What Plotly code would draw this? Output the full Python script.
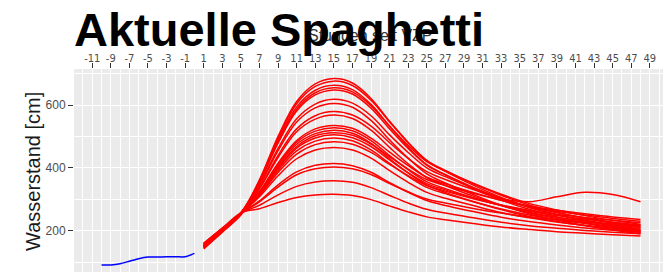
import plotly.graph_objects as go

# Observed water level (blue)
obs_hours = [-10, -9, -8, -7, -6, -5, -4, -3, -2, -1, 0]
obs_values = [91, 91, 95, 103, 111, 116, 116, 117, 117, 117, 128]

# Forecast ensemble members (red), sampled at these hours
fc_hours = [1, 3, 5, 7, 9, 11, 13, 15, 17, 19, 21, 23, 25, 27, 30, 33, 36, 39, 42, 45, 48]

m01 = [150, 200, 255, 362, 500, 611, 667, 684, 670, 621, 548, 481, 423, 389, 345, 306, 275, 251, 231, 215, 200]
m02 = [145, 198, 252, 360, 495, 604, 659, 676, 662, 615, 546, 480, 424, 392, 350, 313, 282, 259, 240, 224, 210]
m03 = [155, 205, 258, 357, 488, 594, 647, 663, 649, 602, 532, 466, 410, 378, 335, 298, 268, 244, 225, 209, 195]
m04 = [148, 200, 255, 355, 483, 587, 639, 655, 642, 598, 533, 472, 420, 390, 351, 316, 287, 266, 248, 233, 220]
m05 = [152, 203, 255, 353, 479, 581, 632, 648, 635, 590, 524, 462, 409, 378, 338, 302, 274, 252, 234, 218, 205]
m06 = [145, 197, 253, 346, 462, 556, 603, 618, 606, 566, 505, 449, 400, 372, 336, 304, 277, 257, 241, 227, 215]
m07 = [158, 207, 258, 343, 455, 546, 591, 605, 593, 551, 489, 431, 381, 352, 315, 281, 254, 234, 217, 202, 190]
m08 = [150, 200, 255, 336, 440, 524, 566, 579, 568, 533, 480, 430, 388, 363, 331, 302, 292, 308, 322, 315, 292]
m09 = [142, 195, 250, 333, 433, 515, 555, 568, 557, 520, 465, 413, 369, 344, 310, 281, 257, 239, 224, 211, 200]
m10 = [155, 205, 255, 325, 415, 487, 524, 535, 526, 495, 450, 407, 370, 349, 322, 297, 277, 262, 250, 239, 230]
m11 = [148, 200, 255, 323, 411, 482, 517, 528, 518, 487, 439, 394, 356, 334, 305, 280, 259, 243, 231, 220, 210]
m12 = [160, 208, 255, 321, 406, 475, 509, 520, 510, 478, 429, 384, 345, 322, 293, 267, 245, 229, 216, 205, 195]
m13 = [150, 202, 255, 319, 401, 468, 502, 512, 504, 476, 435, 396, 363, 344, 319, 297, 279, 265, 254, 244, 236]
m14 = [146, 198, 255, 318, 398, 463, 495, 505, 496, 468, 425, 384, 350, 330, 304, 281, 262, 248, 237, 227, 218]
m15 = [152, 203, 255, 315, 392, 454, 485, 495, 486, 457, 414, 373, 338, 318, 292, 269, 250, 235, 224, 214, 205]
m16 = [158, 206, 255, 312, 385, 444, 474, 483, 475, 449, 411, 375, 344, 326, 302, 282, 265, 252, 242, 233, 225]
m17 = [150, 200, 255, 308, 375, 429, 457, 465, 457, 431, 391, 354, 322, 303, 280, 258, 241, 228, 217, 208, 200]
m18 = [150, 200, 255, 295, 346, 387, 408, 414, 407, 386, 353, 322, 296, 280, 261, 243, 229, 218, 209, 202, 195]
m19 = [155, 204, 255, 292, 339, 378, 397, 403, 397, 379, 350, 324, 301, 288, 271, 256, 244, 235, 227, 221, 215]
m20 = [148, 199, 255, 281, 314, 341, 355, 359, 354, 337, 312, 288, 268, 256, 241, 227, 216, 208, 201, 195, 190]
m21 = [160, 208, 257, 270, 290, 306, 314, 316, 312, 299, 279, 260, 244, 235, 223, 212, 204, 197, 192, 187, 183]

members = [m01, m02, m03, m04, m05, m06, m07, m08, m09, m10, m11,
           m12, m13, m14, m15, m16, m17, m18, m19, m20, m21]

x_tick_vals = list(range(-11, 50, 2))
y_tick_vals = [200, 400, 600]

fig = go.Figure()

for m in members:
    fig.add_trace(go.Scatter(x=fc_hours, y=m, mode="lines",
                             line=dict(color="#FF0000", width=1.5, shape="spline", smoothing=1.0),
                             hoverinfo="skip", showlegend=False))

fig.add_trace(go.Scatter(x=obs_hours, y=obs_values, mode="lines",
                         line=dict(color="#0000FF", width=1.5, shape="spline", smoothing=0.6),
                         showlegend=False))

fig.add_vline(x=0, line=dict(color="#8C8C8C", width=1), layer="below")

W, H = 663, 272
ML, MT = 74, 69
PW, PH = W - ML, H - MT

fig.update_layout(
    width=W, height=H, autosize=False,
    margin=dict(l=ML, r=0, t=MT, b=0, pad=0),
    paper_bgcolor="white", plot_bgcolor="#EBEBEB",
    showlegend=False,
    xaxis=dict(
        side="top", range=[-12.96, 50.42], automargin=False,
        tickmode="array", tickvals=x_tick_vals, ticktext=[str(v) for v in x_tick_vals],
        ticks="outside", ticklen=5, tickcolor="#333333", tickwidth=1,
        ticklabelstandoff=-3,
        tickfont=dict(family="Liberation Sans Narrow, DejaVu Sans Condensed, Liberation Sans", size=11, color="#4D4D4D"),
        showgrid=True, gridcolor="white", gridwidth=1.1,
        minor=dict(tickmode="array", tickvals=list(range(-12, 51, 2)), showgrid=True,
                   gridcolor="white", gridwidth=0.5, ticks=""),
        zeroline=False, showline=False,
    ),
    yaxis=dict(
        range=[68.6, 714.6], automargin=False,
        tickmode="array", tickvals=y_tick_vals, ticktext=[str(v) for v in y_tick_vals],
        ticks="outside", ticklen=5, tickcolor="#333333", tickwidth=1,
        tickfont=dict(family="Liberation Sans", size=12, color="#4D4D4D"),
        showgrid=True, gridcolor="white", gridwidth=1.1,
        minor=dict(tickmode="array", tickvals=[100, 300, 500, 700], showgrid=True,
                   gridcolor="white", gridwidth=0.5, ticks=""),
        zeroline=False, showline=False,
    ),
    annotations=[
        dict(text="Stunden seit VZP", xref="paper", yref="paper",
             x=(370 - ML) / PW, y=(H - 35) / PH, xanchor="center", yanchor="middle",
             showarrow=False, font=dict(family="Liberation Sans", size=16, color="#333333")),
        dict(text="Wasserstand [cm]", xref="paper", yref="paper", textangle=-90,
             x=(33 - ML) / PW, y=(H - 172) / PH, xanchor="center", yanchor="middle",
             showarrow=False, font=dict(family="Liberation Sans", size=20, color="#1A1A1A")),
        dict(text="<b>Aktuelle Spaghetti</b>", xref="paper", yref="paper",
             x=(72 - ML) / PW, y=(H - 30) / PH, xanchor="left", yanchor="middle",
             showarrow=False, font=dict(family="Liberation Sans", size=47, color="black")),
    ],
)

fig.write_html("out.html", post_script="document.body.style.margin='0';",
               config={"displayModeBar": False})
